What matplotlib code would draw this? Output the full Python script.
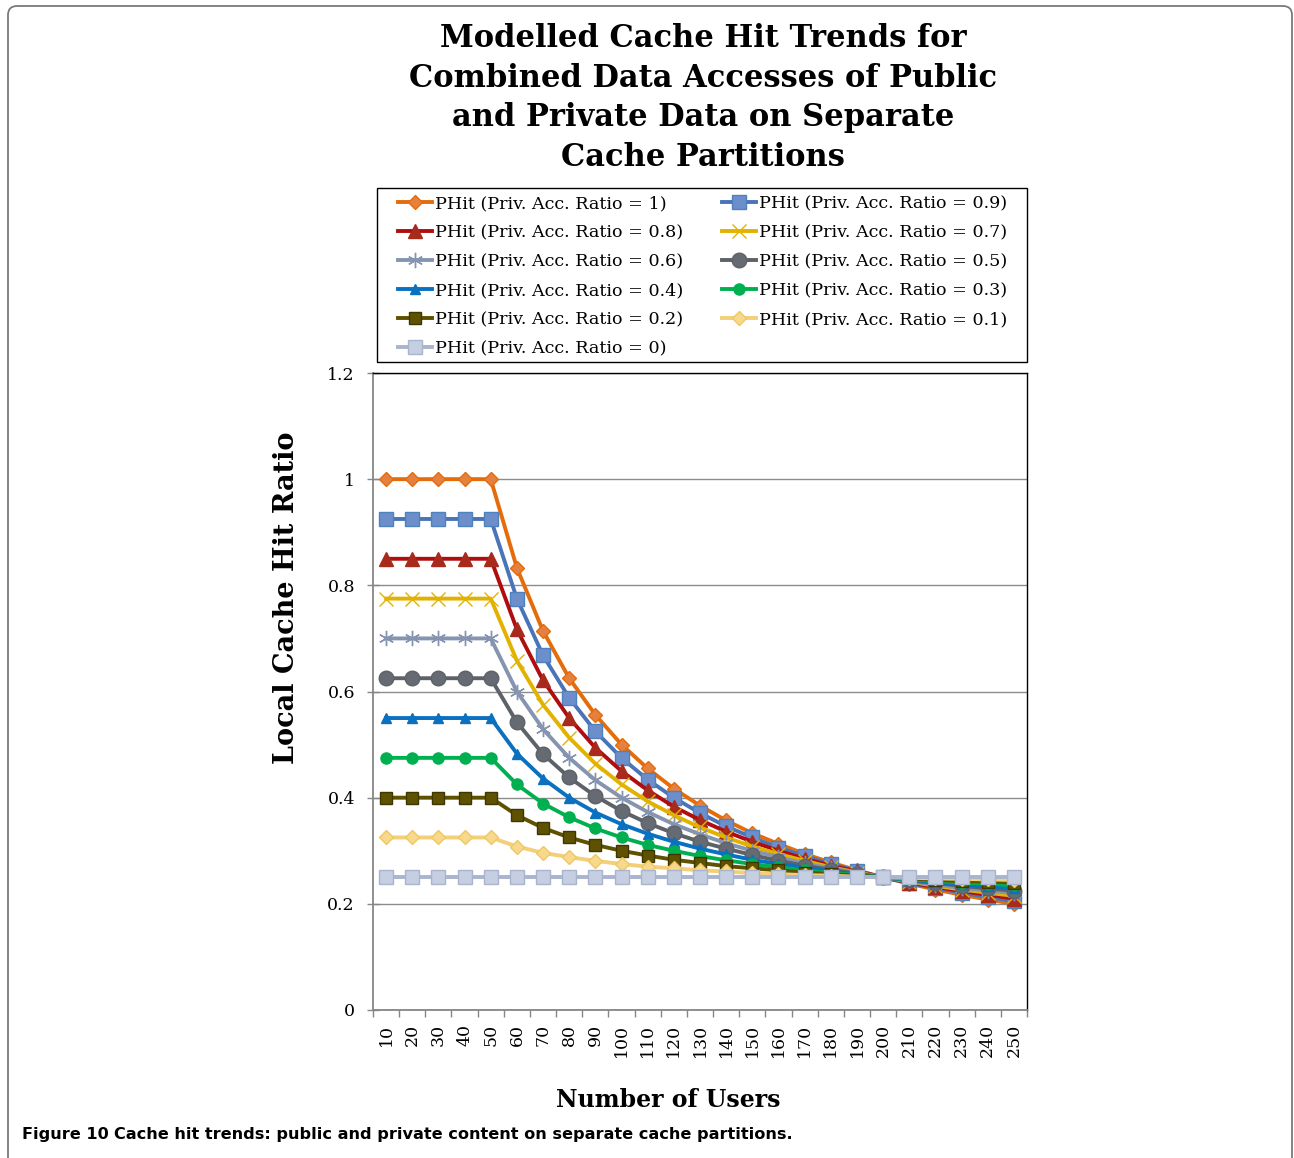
import matplotlib
matplotlib.use("Agg")
import matplotlib.pyplot as plt
from matplotlib.patches import FancyBboxPatch, Rectangle
import numpy as np

users = [10, 20, 30, 40, 50, 60, 70, 80, 90, 100, 110, 120, 130, 140, 150,
         160, 170, 180, 190, 200, 210, 220, 230, 240, 250]

phit_10 = [1, 1, 1, 1, 1, 0.833, 0.714, 0.625, 0.556, 0.5, 0.455, 0.417, 0.385,
           0.357, 0.333, 0.313, 0.294, 0.278, 0.263, 0.25, 0.238, 0.227, 0.217, 0.208, 0.2]
phit_09 = [0.925, 0.925, 0.925, 0.925, 0.925, 0.775, 0.668, 0.588, 0.525, 0.475, 0.434,
           0.4, 0.371, 0.346, 0.325, 0.306, 0.29, 0.275, 0.262, 0.25, 0.239, 0.23, 0.221, 0.213, 0.205]
phit_08 = [0.85, 0.85, 0.85, 0.85, 0.85, 0.717, 0.621, 0.55, 0.494, 0.45, 0.414, 0.383,
           0.358, 0.336, 0.317, 0.3, 0.285, 0.272, 0.261, 0.25, 0.24, 0.232, 0.224, 0.217, 0.21]
phit_07 = [0.775, 0.775, 0.775, 0.775, 0.775, 0.658, 0.575, 0.513, 0.464, 0.425, 0.393,
           0.367, 0.344, 0.325, 0.308, 0.294, 0.281, 0.269, 0.259, 0.25, 0.242, 0.234, 0.227, 0.221, 0.215]
phit_06 = [0.7, 0.7, 0.7, 0.7, 0.7, 0.6, 0.529, 0.475, 0.433, 0.4, 0.373, 0.35, 0.331,
           0.314, 0.3, 0.288, 0.276, 0.267, 0.258, 0.25, 0.243, 0.236, 0.23, 0.225, 0.22]
phit_05 = [0.625, 0.625, 0.625, 0.625, 0.625, 0.542, 0.482, 0.438, 0.403, 0.375, 0.352,
           0.333, 0.317, 0.304, 0.292, 0.281, 0.272, 0.264, 0.257, 0.25, 0.244, 0.239, 0.234, 0.229, 0.225]
phit_04 = [0.55, 0.55, 0.55, 0.55, 0.55, 0.483, 0.436, 0.4, 0.372, 0.35, 0.332, 0.317,
           0.304, 0.293, 0.283, 0.275, 0.268, 0.261, 0.255, 0.25, 0.245, 0.241, 0.237, 0.233, 0.23]
phit_03 = [0.475, 0.475, 0.475, 0.475, 0.475, 0.425, 0.389, 0.363, 0.342, 0.325, 0.311,
           0.3, 0.29, 0.282, 0.275, 0.269, 0.263, 0.258, 0.254, 0.25, 0.246, 0.243, 0.24, 0.238, 0.235]
phit_02 = [0.4, 0.4, 0.4, 0.4, 0.4, 0.367, 0.343, 0.325, 0.311, 0.3, 0.291, 0.283, 0.277,
           0.271, 0.267, 0.263, 0.259, 0.256, 0.253, 0.25, 0.248, 0.245, 0.243, 0.242, 0.24]
phit_01 = [0.325, 0.325, 0.325, 0.325, 0.325, 0.308, 0.296, 0.288, 0.281, 0.275, 0.27,
           0.267, 0.263, 0.261, 0.258, 0.256, 0.254, 0.253, 0.251, 0.25, 0.249, 0.248, 0.247, 0.246, 0.245]
phit_00 = [0.25] * 25

series_labels = ["PHit (Priv. Acc. Ratio = 1)", "PHit (Priv. Acc. Ratio = 0.9)",
                 "PHit (Priv. Acc. Ratio = 0.8)", "PHit (Priv. Acc. Ratio = 0.7)",
                 "PHit (Priv. Acc. Ratio = 0.6)", "PHit (Priv. Acc. Ratio = 0.5)",
                 "PHit (Priv. Acc. Ratio = 0.4)", "PHit (Priv. Acc. Ratio = 0.3)",
                 "PHit (Priv. Acc. Ratio = 0.2)", "PHit (Priv. Acc. Ratio = 0.1)",
                 "PHit (Priv. Acc. Ratio = 0)"]
series_values = [phit_10, phit_09, phit_08, phit_07, phit_06, phit_05,
                 phit_04, phit_03, phit_02, phit_01, phit_00]

y_ticks = [0, 0.2, 0.4, 0.6, 0.8, 1, 1.2]
y_tick_labels = ["0", "0.2", "0.4", "0.6", "0.8", "1", "1.2"]

# style per series: line color, marker, marker size, face color, edge color, mew
styles = [
    ("#E46C0A", "D", 7.5, "#E5803F", "#E46C0A", 1.0),
    ("#4A74B8", "s", 10, "#6C8ECB", "#4F81BD", 1.0),
    ("#B00E0E", "^", 10, "#A82A1C", "#A82A1C", 1.0),
    ("#E2B200", "x", 10, "#E2B200", "#E2B200", 1.0),
    ("#8595B1", (6, 2, 0), 11, "#8595B1", "#8595B1", 1.0),
    ("#5D6168", "o", 10.5, "#666A72", "#5D6168", 1.0),
    ("#0A70C0", "^", 7.5, "#0A70C0", "#0A70C0", 1.0),
    ("#00B050", "o", 8, "#00B050", "#00B050", 1.0),
    ("#5E5200", "s", 8, "#5E5200", "#3F3600", 1.0),
    ("#F2CF78", "D", 7.5, "#F7D98E", "#F0C860", 1.0),
    ("#A9B4CE", "s", 10, "#C6CEE2", "#A9B4CE", 1.0),
]

W, H, DPI = 1294, 1158, 100
fig = plt.figure(figsize=(W / DPI, H / DPI), dpi=DPI)
fig.patch.set_facecolor("white")

# outer rounded frame (pixel coordinates)
frame = FancyBboxPatch((8, -40), 1284, 1158 - 6 + 40,
                       boxstyle="round,pad=0,rounding_size=9",
                       transform=None, facecolor="none",
                       edgecolor="#7a7a7a", linewidth=1.3, zorder=0)
fig.patches.append(frame)

ax_l, ax_r, ax_t, ax_b = 373, 1027, 373, 1010
ax = fig.add_axes([ax_l / W, 1 - ax_b / H, (ax_r - ax_l) / W, (ax_b - ax_t) / H])

x = np.arange(len(users))
handles = []
for vals, lab, st in zip(series_values, series_labels, styles):
    lc, mk, ms, mfc, mec, mew = st
    (h,) = ax.plot(x, vals, color=lc, linewidth=2.8, marker=mk, markersize=ms,
                   markerfacecolor=mfc, markeredgecolor=mec, markeredgewidth=mew,
                   label=lab, solid_joinstyle="round", clip_on=False)
    handles.append(h)

ax.set_xlim(-0.5, len(users) - 0.5)
ax.set_ylim(0, 1.2)
ax.set_yticks(y_ticks)
ax.set_yticklabels(y_tick_labels)
ax.yaxis.grid(True, color="#8C8C8C", linewidth=1.0)
ax.set_axisbelow(True)

serif = "DejaVu Serif"
ax.set_xticks(np.arange(len(users) + 1) - 0.5)
ax.set_xticklabels([])
ax.set_xticks(x, minor=True)
ax.set_xticklabels([str(u) for u in users], minor=True, rotation=90,
                   fontfamily=serif, fontsize=12.5)
ax.tick_params(axis="x", which="major", direction="out", length=5, color="#868686", width=1)
ax.tick_params(axis="x", which="minor", length=0, pad=10)
ax.tick_params(axis="y", direction="inout", length=8, color="#868686", width=1, pad=9)
for lab in ax.get_yticklabels():
    lab.set_fontfamily(serif)
    lab.set_fontsize(12.5)

for s in ("top", "right"):
    ax.spines[s].set_color("black")
    ax.spines[s].set_linewidth(1.0)
for s in ("left", "bottom"):
    ax.spines[s].set_color("#868686")
    ax.spines[s].set_linewidth(1.3)

# title
fig.text(703 / W, 1 - 23 / H,
         "Modelled Cache Hit Trends for\nCombined Data Accesses of Public\nand Private Data on Separate\nCache Partitions",
         ha="center", va="top", fontfamily=serif, fontweight="bold", fontsize=22,
         linespacing=1.36)

# axis labels
fig.text(286 / W, 1 - 598 / H, "Local Cache Hit Ratio", rotation=90, ha="center",
         va="center", fontfamily=serif, fontweight="bold", fontsize=19.5)
fig.text(668 / W, 1 - 1100 / H, "Number of Users", ha="center", va="center",
         fontfamily=serif, fontweight="bold", fontsize=17)

# legend frame drawn separately (pixel coords, y from bottom)
fig.patches.append(Rectangle((377, H - 362), 1027 - 377, 362 - 188, transform=None,
                             facecolor="white", edgecolor="black", linewidth=1.0,
                             zorder=1))

# legend: row-wise order -> reorder for column filling
order = [0, 2, 4, 6, 8, 10, 1, 3, 5, 7, 9]
leg = fig.legend([handles[i] for i in order], [series_labels[i] for i in order],
                 ncol=2, loc="upper left",
                 bbox_to_anchor=(398 / W, 1 - 195 / H),
                 bbox_transform=fig.transFigure,
                 prop={"family": serif, "size": 12.6},
                 frameon=False, borderpad=0, labelspacing=0.69, handlelength=1.95,
                 handletextpad=0.17, columnspacing=2.2, borderaxespad=0)

# caption
fig.canvas.draw()
r = fig.canvas.get_renderer()
cap_fam = ["Liberation Sans Narrow", "DejaVu Sans"]
cap_y = 1 - 1135 / H
fs = 12.5
t1 = fig.text(22 / W, cap_y, "Figure 10", ha="left", va="center",
              fontfamily=cap_fam, fontweight="bold", fontsize=fs)
t2 = fig.text(0, cap_y,
              "Cache hit trends: public and private content on separate cache partitions.",
              ha="left", va="center", fontfamily=cap_fam, fontweight="bold",
              fontsize=fs)
b1 = t1.get_window_extent(renderer=r)
t2.set_x((b1.x1 + 5) / W)
b2 = t2.get_window_extent(renderer=r)
scale = (790 - 22) / (b2.x1 - b1.x0)
fs2 = fs * scale
t1.set_fontsize(fs2)
t2.set_fontsize(fs2)
b1 = t1.get_window_extent(renderer=r)
t2.set_x((b1.x1 + 5) / W)

fig.savefig("out.png", dpi=DPI, facecolor="white")
